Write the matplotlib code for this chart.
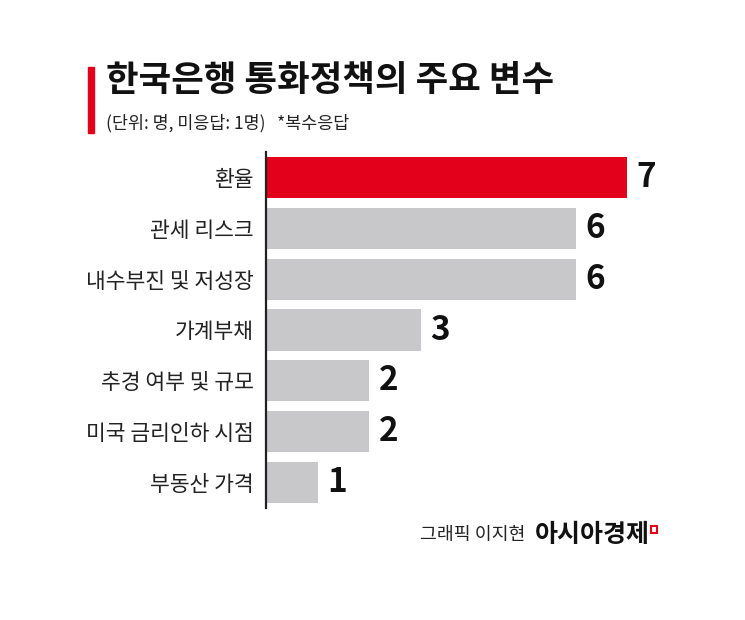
import matplotlib
matplotlib.use("Agg")
import matplotlib.pyplot as plt
from matplotlib.patches import Rectangle

plt.rcParams['font.family'] = ['Noto Sans CJK KR', 'DejaVu Sans']

categories = ['환율', '관세 리스크', '내수부진 및 저성장', '가계부채', '추경 여부 및 규모', '미국 금리인하 시점', '부동산 가격']
values = [7, 6, 6, 3, 2, 2, 1]
colors = ['#e3001b', '#c8c8ca', '#c8c8ca', '#c8c8ca', '#c8c8ca', '#c8c8ca', '#c8c8ca']
title = '한국은행 통화정책의 주요 변수'
subtitle = '(단위: 명, 미응답: 1명)   *복수응답'
credit = '그래픽 이지현'
brand = '아시아경제'

W, H = 745, 620
fig = plt.figure(figsize=(W/100, H/100), dpi=100)
fig.patch.set_facecolor('white')

# axes: x0=266px, 1 unit = 51.6px; rows centred 177..483 px
ax_left, ax_right = 266, 266 + 51.6*9
ax_top, ax_bot = 152, 508
ax = fig.add_axes([ax_left/W, 1-ax_bot/H, (ax_right-ax_left)/W, (ax_bot-ax_top)/H])
ypos = list(range(len(categories)))
ax.barh(ypos, values, height=0.81, color=colors, zorder=2)
ax.set_xlim(0, 9)
ax.set_ylim(len(categories)-0.5, -0.5)
for s in ['top', 'right', 'bottom']:
    ax.spines[s].set_visible(False)
ax.spines['left'].set_color('#222222')
ax.spines['left'].set_linewidth(1.6)
ax.set_xticks([])
ax.set_yticks(ypos)
ax.set_yticklabels(categories, fontsize=15.5, color='#222222')
ax.tick_params(axis='y', length=0, pad=9)
for y, v in zip(ypos, values):
    ax.text(v + 0.18, y, str(v), va='center', ha='left', fontsize=24,
            fontweight='bold', color='#111111')

# title block
fig.patches.append(Rectangle((88/W, 1-133/H), 6/W, 66/H, transform=fig.transFigure,
                             color='#e3001b', zorder=5))
fig.text(106/W, 1-81/H, title, fontsize=25.5, fontweight='bold', color='#111111',
         va='center', ha='left')
fig.text(106/W, 1-123/H, subtitle, fontsize=12.5, color='#222222',
         va='center', ha='left')

# credit
fig.text(420/W, 1-535/H, credit, fontsize=13.2, color='#222222', va='center', ha='left')
fig.text(535/W, 1-535/H, brand, fontsize=18, fontweight='bold', color='#111111',
         va='center', ha='left')
fig.patches.append(Rectangle((651/W, 1-533/H), 6/W, 7/H, transform=fig.transFigure,
                             facecolor='none', edgecolor='#e3001b', linewidth=1.5, zorder=5))

fig.savefig('out.png', dpi=100, facecolor='white')
